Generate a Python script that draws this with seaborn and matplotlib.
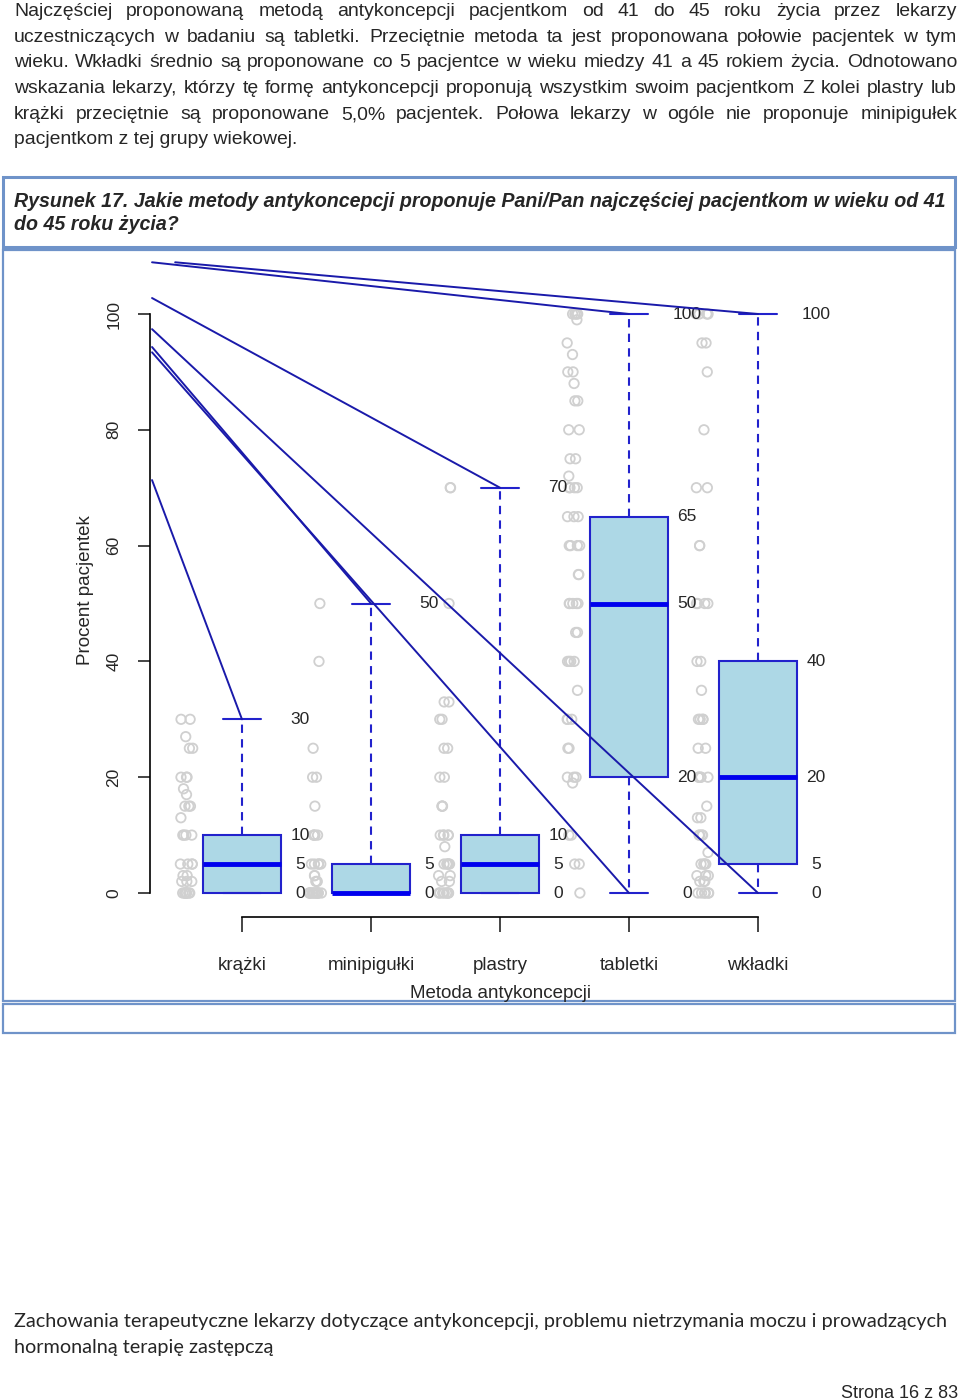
import numpy as np
import pandas as pd
import matplotlib
matplotlib.use("Agg")
import matplotlib.pyplot as plt
from matplotlib.patches import Rectangle
import seaborn as sns

# ---- data ----
methods = ["krążki", "minipigułki", "plastry", "tabletki", "wkładki"]

# five-number summaries (min, Q1, median, Q3, max)
box_min = [0, 0, 0, 0, 0]
box_q1 = [0, 0, 0, 20, 5]
box_median = [5, 0, 5, 50, 20]
box_q3 = [10, 5, 10, 65, 40]
box_max = [30, 50, 70, 100, 100]

# individual answers (value, count)
pts_krazki = [(30, 2), (27, 1), (25, 2), (20, 3), (18, 1), (17, 1), (15, 3), (13, 1),
              (10, 4), (5, 4), (3, 2), (2, 3), (0, 8)]
pts_minipigulki = [(50, 1), (40, 1), (25, 1), (20, 2), (15, 1), (10, 4), (5, 5),
                   (3, 2), (2, 2), (0, 12)]
pts_plastry = [(70, 2), (50, 1), (33, 2), (30, 2), (25, 2), (20, 2), (15, 3), (10, 5),
               (8, 1), (5, 5), (3, 2), (2, 2), (0, 8)]
pts_tabletki = [(100, 4), (99, 1), (95, 1), (93, 1), (90, 2), (88, 1), (85, 2), (80, 2),
                (75, 2), (72, 1), (70, 4), (65, 3), (60, 4), (55, 2), (50, 5), (45, 2),
                (40, 4), (35, 1), (30, 3), (25, 2), (20, 3), (19, 1), (10, 2), (5, 2), (0, 1)]
pts_wkladki = [(100, 4), (95, 2), (90, 1), (80, 1), (70, 2), (60, 2), (50, 4), (40, 2),
               (35, 1), (30, 4), (25, 2), (20, 5), (15, 1), (13, 2), (10, 4), (7, 1),
               (5, 4), (3, 3), (2, 3), (0, 6)]

# leader lines drawn in the original from the top-left corner to whisker ends
leader_method = ["krążki", "minipigułki", "plastry", "tabletki", "wkładki", "tabletki", "wkładki"]
leader_end = ["max", "max", "max", "max", "max", "min", "min"]
leader_start_x = [0.003, 0.003, 0.003, 0.003, 0.037, 0.003, 0.003]   # axes fraction
leader_start_y = [0.660, 0.861, 0.935, 0.989, 0.989, 0.853, 0.888]

paragraph = [
    "Najczęściej proponowaną metodą antykoncepcji pacjentkom od 41 do 45 roku życia przez lekarzy",
    "uczestniczących w badaniu są tabletki. Przeciętnie metoda ta jest proponowana połowie pacjentek w tym",
    "wieku. Wkładki średnio są proponowane co 5 pacjentce w wieku miedzy 41 a 45 rokiem życia. Odnotowano",
    "wskazania lekarzy, którzy tę formę antykoncepcji proponują wszystkim swoim pacjentkom  Z kolei plastry lub",
    "krążki przeciętnie są proponowane 5,0% pacjentek. Połowa lekarzy w ogóle nie proponuje minipigułek",
    "pacjentkom z tej grupy wiekowej.",
]
caption = ["Rysunek 17. Jakie metody antykoncepcji proponuje Pani/Pan najczęściej pacjentkom w wieku od 41",
           "do 45 roku życia?"]
footer = ["Zachowania terapeutyczne lekarzy dotyczące antykoncepcji, problemu nietrzymania moczu i prowadzących",
          "hormonalną terapię zastępczą"]

# ---- frames ----
box_df = pd.DataFrame({
    "metoda": np.repeat(methods, 5),
    "procent": np.column_stack([box_min, box_q1, box_median, box_q3, box_max]).ravel(),
})
pts_df = pd.DataFrame(
    [(m, v) for m, pts in zip(methods, [pts_krazki, pts_minipigulki, pts_plastry, pts_tabletki, pts_wkladki])
     for v, n in pts for _ in range(n)],
    columns=["metoda", "procent"])

sns.set_style("white")
plt.rcParams["font.family"] = ["Liberation Sans", "DejaVu Sans"]

W, H = 960, 1400
fig = plt.figure(figsize=(W / 100, H / 100), dpi=100)


def px(x, y):
    return x / W, 1 - y / H


# chart axes
ax = fig.add_axes([150 / W, 1 - 917 / H, 680 / W, 662 / H])
ax.set_xlim(-0.713, 4.558)
ax.set_ylim(-4.145, 110.19)

n_before = len(ax.collections)
np.random.seed(7)
sns.stripplot(data=pts_df, x="metoda", y="procent", order=methods, jitter=0.05,
              size=6.8, color="#d0d0d0", linewidth=1.3, ax=ax, zorder=1)
for coll in ax.collections[n_before:]:
    offs = coll.get_offsets()
    offs[:, 0] -= 0.43
    coll.set_offsets(offs)
    coll.set_facecolor("none")
    coll.set_edgecolor("#d0d0d0")

sns.boxplot(data=box_df, x="metoda", y="procent", order=methods, whis=(0, 100),
            width=0.6, color="#add8e6", linecolor="#2222cc", linewidth=1.5,
            showfliers=False, saturation=1,
            medianprops=dict(linewidth=3.5, color="#0000ee"),
            whiskerprops=dict(linestyle=(0, (4, 3))),
            ax=ax, zorder=2)

ax.set_xlim(-0.713, 4.558)
ax.set_ylim(-4.145, 110.19)

# value labels next to each box
stats = list(zip(box_min, box_q1, box_median, box_q3, box_max))
for i, st in enumerate(stats):
    for v in sorted(set(st)):
        ax.text(i + 0.45, v, str(v), ha="center", va="center", fontsize=12.5, zorder=4)

# leader lines
ends = {"max": box_max, "min": box_min}
for m, e, sx, sy in zip(leader_method, leader_end, leader_start_x, leader_start_y):
    i = methods.index(m)
    ax.annotate("", xy=(i, ends[e][i]), xycoords="data", xytext=(sx, sy),
                textcoords="axes fraction",
                arrowprops=dict(arrowstyle="-", color="#1a1aaa", lw=1.4, shrinkA=0, shrinkB=0),
                zorder=5, annotation_clip=False)

# axes styling (R-like)
for s in ["top", "right"]:
    ax.spines[s].set_visible(False)
ax.spines["left"].set_bounds(0, 100)
ax.spines["bottom"].set_bounds(0, 4)
for s in ["left", "bottom"]:
    ax.spines[s].set_color("black")
    ax.spines[s].set_linewidth(1.2)
ax.set_yticks(range(0, 101, 20))
ax.set_yticklabels([str(v) for v in range(0, 101, 20)], rotation=90, va="center", fontsize=12.5)
ax.set_xticks(range(len(methods)))
ax.set_xticklabels(methods, fontsize=13.5)
ax.tick_params(axis="y", direction="out", length=8.6, width=1.2, pad=12, left=True)
ax.tick_params(axis="x", direction="out", length=10.8, width=1.2, pad=18, bottom=True)
ax.set_xlabel("")
ax.set_ylabel("")
ax.grid(False)
ax.patch.set_alpha(0)

fig.text(*px(86, 590), "Procent pacjentek", rotation=90, ha="center", va="center", fontsize=13.5)
fig.text(*px(500, 993), "Metoda antykoncepcji", ha="center", va="center", fontsize=13.5)

# frames around caption and chart
frame_col = "#6f93c9"
for (x0, y0, x1, y1, lw) in [(3, 177, 955, 247, 2.2), (3, 250, 955, 1001, 1.6), (3, 1004, 955, 1033, 1.6)]:
    fig.patches.append(Rectangle(px(x0, y1), (x1 - x0) / W, (y1 - y0) / H, transform=fig.transFigure,
                                 fill=False, edgecolor=frame_col, linewidth=lw))

renderer = fig.canvas.get_renderer()


def justify_line(line, y, x0, x1, **kw):
    words = line.split()
    texts = [fig.text(0, 1 - y / H, w, va="baseline", **kw) for w in words]
    widths = [t.get_window_extent(renderer).width for t in texts]
    gap = (x1 - x0 - sum(widths)) / max(len(words) - 1, 1)
    x = x0
    for t, w in zip(texts, widths):
        t.set_x(x / W)
        x += w + gap


def fitted_text(line, x, y, width, size, **kw):
    t = fig.text(x / W, 1 - y / H, line, va="baseline", fontsize=size, **kw)
    w = t.get_window_extent(renderer).width
    t.set_fontsize(size * width / w)
    return t


# paragraph font size: the longest line set with plain spaces nearly fills the column
probe = fig.text(0, 0, paragraph[3], fontsize=13)
para_size = 13 * 930 / probe.get_window_extent(renderer).width
probe.remove()

para_base = [16, 42, 67, 93, 119, 144]
for k, (line, yb) in enumerate(zip(paragraph, para_base)):
    if k < len(paragraph) - 1:
        justify_line(line, yb, 14, 957, fontsize=para_size)
    else:
        fig.text(14 / W, 1 - yb / H, line, va="baseline", fontsize=para_size)

cap = fitted_text(caption[0], 14, 207, 931, 13, fontweight="bold", fontstyle="italic")
fig.text(14 / W, 1 - 230 / H, caption[1], va="baseline", fontsize=cap.get_fontsize(),
         fontweight="bold", fontstyle="italic")

foot = fitted_text(footer[0], 14, 1327, 936, 14, family=["Lato", "DejaVu Sans"])
fig.text(14 / W, 1 - 1353 / H, footer[1], va="baseline", fontsize=foot.get_fontsize(),
         family=["Lato", "DejaVu Sans"])
fig.text(958 / W, 1 - 1398 / H, "Strona 16 z 83", ha="right", va="baseline", fontsize=13)

fig.savefig("out.png", dpi=100)
